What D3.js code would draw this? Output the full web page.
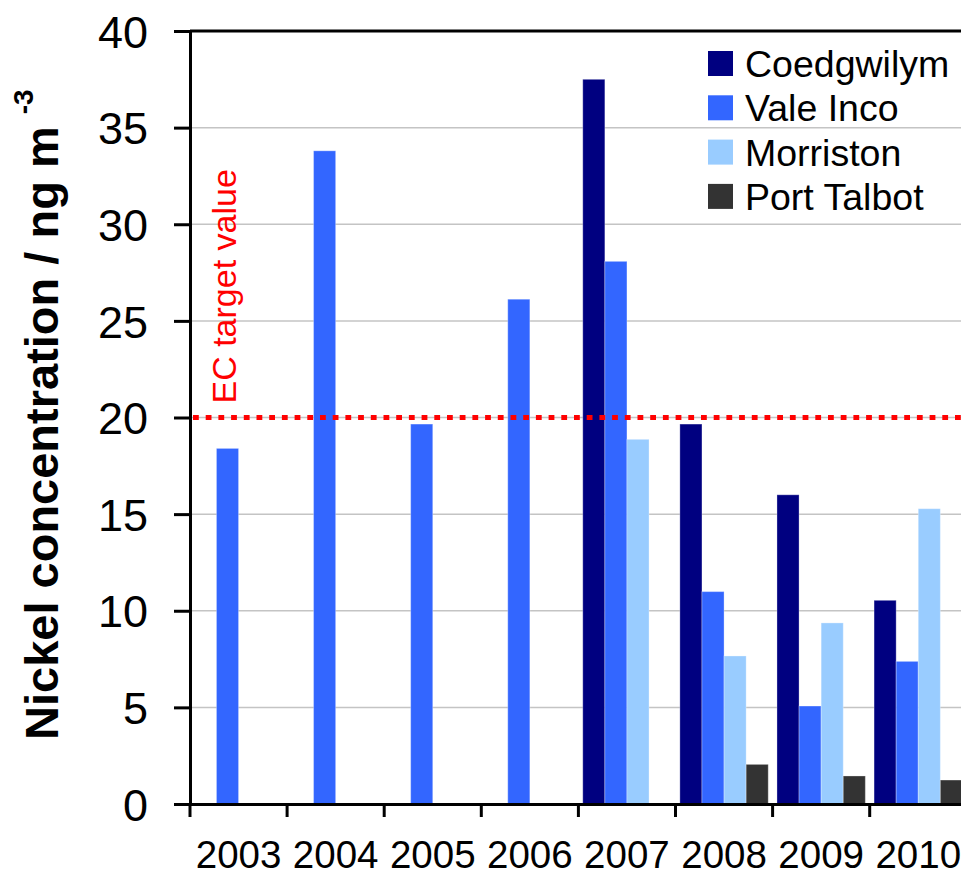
<!DOCTYPE html>
<html>
<head>
<meta charset="utf-8">
<script src="https://cdn.jsdelivr.net/npm/d3@7/dist/d3.min.js"></script>
<style>
  html, body { margin: 0; padding: 0; background: #fff; }
  svg { display: block; }
  text { font-family: "Liberation Sans", Arial, sans-serif; }
</style>
</head>
<body>
<svg id="chart" width="961" height="877"></svg>
<script>
// Annual mean nickel concentrations at the Swansea-area monitoring sites
const years = ["2003", "2004", "2005", "2006", "2007", "2008", "2009", "2010"];
const seriesNames = ["Coedgwilym", "Vale Inco", "Morriston", "Port Talbot"];
const coedgwilym = [null, null, null, null, 37.5, 19.66, 16.0, 10.54];
const valeInco   = [18.4, 33.8, 19.66, 26.12, 28.08, 10.99, 5.07, 7.38];
const morriston  = [null, null, null, null, 18.87, 7.66, 9.37, 15.28];
const portTalbot = [null, null, null, null, null, 2.05, 1.45, 1.24];
const seriesColors = ["#000080", "#3366ff", "#99ccff", "#333333"];
const yTicks = [0, 5, 10, 15, 20, 25, 30, 35, 40];
const targetValue = 20;
const targetLabel = "EC target value";

const seriesValues = [coedgwilym, valeInco, morriston, portTalbot];

const svg = d3.select("#chart");
const plotLeft = 190, plotTop = 31, plotBottom = 804;
const step = 97.1;
const plotRight = plotLeft + step * years.length;

const x0 = d3.scaleBand()
  .domain(years)
  .range([plotLeft, plotRight])
  .paddingInner(0.09)
  .paddingOuter(0.045);

const x1 = d3.scaleBand()
  .domain(seriesNames)
  .range([0, x0.bandwidth()]);

const y = d3.scaleLinear().domain([0, 40]).range([plotBottom, plotTop]);
const color = d3.scaleOrdinal().domain(seriesNames).range(seriesColors);

// horizontal gridlines
svg.append("g")
  .selectAll("line")
  .data(yTicks.filter(d => d > 0 && d < 40))
  .join("line")
  .attr("x1", plotLeft).attr("x2", plotRight)
  .attr("y1", d => y(d)).attr("y2", d => y(d))
  .attr("stroke", "#c4c4c4")
  .attr("stroke-width", 1.5);

// bars
const rows = [];
years.forEach((yr, i) => {
  seriesNames.forEach((s, j) => {
    const v = seriesValues[j][i];
    if (v != null) rows.push({ year: yr, series: s, value: v });
  });
});

svg.append("g")
  .selectAll("rect")
  .data(rows)
  .join("rect")
  .attr("x", d => x0(d.year) + x1(d.series))
  .attr("y", d => y(d.value))
  .attr("width", x1.bandwidth())
  .attr("height", d => y(0) - y(d.value))
  .attr("fill", d => color(d.series))
  .attr("stroke", "#ffffff")
  .attr("stroke-opacity", 0.3)
  .attr("stroke-width", 1);

// EC target value line
svg.append("line")
  .attr("x1", plotLeft + 3).attr("x2", plotRight)
  .attr("y1", y(targetValue)).attr("y2", y(targetValue))
  .attr("stroke", "#ff0000")
  .attr("stroke-width", 5)
  .attr("stroke-dasharray", "5.8 6.9");

svg.append("text")
  .attr("transform", `translate(236, ${y(targetValue) - 14}) rotate(-90)`)
  .attr("fill", "#ff0000")
  .attr("font-size", 34)
  .text(targetLabel);

// y axis
const yAxis = svg.append("g")
  .attr("transform", `translate(${plotLeft},0)`)
  .call(d3.axisLeft(y).tickValues(yTicks).tickSize(16).tickSizeOuter(0).tickPadding(26));
yAxis.select(".domain").attr("stroke", "#000").attr("stroke-width", 3);
yAxis.selectAll(".tick line").attr("stroke", "#000").attr("stroke-width", 3);
yAxis.selectAll(".tick text")
  .attr("font-size", 45)
  .attr("font-family", "Liberation Sans, Arial, sans-serif")
  .attr("fill", "#000")
  .attr("dy", "0.36em");

// plot frame top edge
svg.append("line")
  .attr("x1", plotLeft).attr("x2", plotRight)
  .attr("y1", plotTop).attr("y2", plotTop)
  .attr("stroke", "#000").attr("stroke-width", 3);

// x axis
const xAxis = svg.append("g")
  .attr("transform", `translate(0,${plotBottom})`)
  .call(d3.axisBottom(x0).tickSize(0).tickSizeOuter(0).tickPadding(37));
xAxis.select(".domain").attr("stroke", "#000").attr("stroke-width", 3);
xAxis.selectAll(".tick text")
  .attr("font-size", 38.5)
  .attr("font-family", "Liberation Sans, Arial, sans-serif")
  .attr("fill", "#000");

// category boundary ticks
const boundaries = d3.range(years.length + 1).map(i => x0.range()[0] + i * x0.step());
svg.append("g")
  .selectAll("line")
  .data(boundaries)
  .join("line")
  .attr("x1", d => d).attr("x2", d => d)
  .attr("y1", plotBottom).attr("y2", plotBottom + 13)
  .attr("stroke", "#000").attr("stroke-width", 3);

// y axis title
const yTitle = svg.append("text")
  .attr("transform", "translate(58, 740) rotate(-90)")
  .attr("font-size", 47)
  .attr("font-weight", "bold")
  .attr("fill", "#000");
yTitle.append("tspan").text("Nickel concentration / ng m");
yTitle.append("tspan")
  .attr("dx", 12).attr("dy", -25)
  .attr("font-size", 28)
  .text("-3");

// legend
const legend = svg.append("g")
  .selectAll("g")
  .data(seriesNames)
  .join("g")
  .attr("transform", (d, i) => `translate(708, ${51 + i * 44.3})`);
legend.append("rect")
  .attr("width", 25).attr("height", 25)
  .attr("fill", d => color(d));
legend.append("text")
  .attr("x", 37).attr("y", 12.5)
  .attr("dy", "0.36em")
  .attr("font-size", 37.5)
  .attr("fill", "#000")
  .text(d => d);
</script>
</body>
</html>
